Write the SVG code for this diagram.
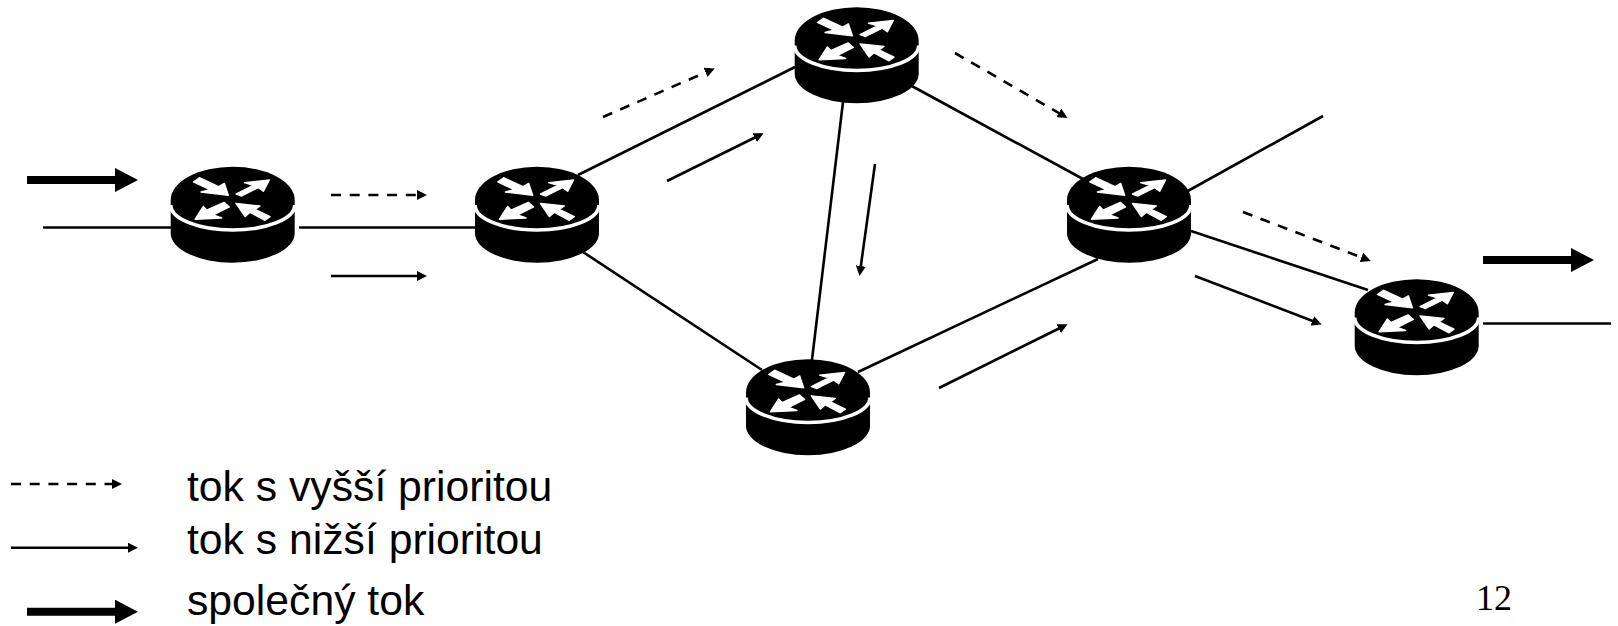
<svg xmlns="http://www.w3.org/2000/svg" width="1618" height="626" viewBox="0 0 1618 626">
<style>
.l{stroke:#000;stroke-width:2.6;fill:none}
.d{stroke:#000;stroke-width:2.6;fill:none;stroke-dasharray:10 8.7}
.b{stroke:#000;stroke-width:8;fill:none}
.t{font-family:"Liberation Sans",Arial,sans-serif;font-size:42.7px;fill:#000}
.w{fill:#fff;stroke:#fff;stroke-width:4;stroke-linejoin:round}
</style>
<defs>
<marker id="a" markerUnits="userSpaceOnUse" markerWidth="10" markerHeight="10" refX="6" refY="5" orient="auto"><path d="M0 0L10 5L0 10Z"/></marker>
<marker id="A" markerUnits="userSpaceOnUse" markerWidth="23" markerHeight="24" refX="1" refY="12" orient="auto"><path d="M0 0L23 12L0 24Z"/></marker>
<symbol id="r" overflow="visible">
<g transform="scale(.3333) translate(-248 -150)">
<path d="M62 150V250A186 88 0 0 0 434 250V150A186 100 0 0 0 62 150Z" fill="#000"/>
<path d="M62 165A186 75 0 0 0 434 165" fill="none" stroke="#fff" stroke-width="11"/>
<path class="w" d="M130 96L148 83L206 110L223 100L235 136L153 126L180 119Z"/>
<path class="w" d="M258 132L310 106L283 98L358 90L340 124L325 113L275 138Z"/>
<path class="w" d="M238 171L190 195L215 204L135 208L160 169L170 180L222 157Z"/>
<path class="w" d="M258 160L330 168L315 178L360 200L345 211L300 187L285 200Z"/>
</g>
</symbol>
</defs>
<g id="connectors">
<path class="l" d="M43 227.5H172M299 227.5H475"/>
<path class="l" d="M578 175L795 67M583 252L762 370M843 102L811 368M910 85L1083 179M1186 192L1323 116M1191 231L1368 290M858 372L1098 259M1483 323.5H1611"/>
<path class="d" marker-end="url(#a)" d="M331 195H423"/>
<path class="l" marker-end="url(#a)" d="M331 276H423"/>
<path class="d" marker-end="url(#a)" d="M603 117L711 70"/>
<path class="l" marker-end="url(#a)" d="M667 181L760 135"/>
<path class="d" marker-end="url(#a)" d="M955 53L1064 116"/>
<path class="l" marker-end="url(#a)" d="M875 164L860 272"/>
<path class="d" marker-end="url(#a)" d="M1243 212L1367 259.5"/>
<path class="l" marker-end="url(#a)" d="M1195 276L1318 323"/>
<path class="l" marker-end="url(#a)" d="M939 388L1064 326"/>
<path class="b" marker-end="url(#A)" d="M27 180H116"/>
<path class="b" marker-end="url(#A)" d="M1483 260H1572"/>
</g>
<g id="r1"><use href="#r" x="232.7" y="200"/></g>
<g id="r2"><use href="#r" x="537" y="200"/></g>
<g id="r3"><use href="#r" x="856.7" y="40.5"/></g>
<g id="r4"><use href="#r" x="1129" y="200"/></g>
<g id="r5"><use href="#r" x="1416.7" y="312.5"/></g>
<g id="r6"><use href="#r" x="808" y="392.5"/></g>
<g id="legend">
<path class="d" marker-end="url(#a)" d="M11 484H118"/>
<path class="l" marker-end="url(#a)" d="M11 547.7H134"/>
<path class="b" marker-end="url(#A)" d="M27 611.7H116"/>
<text class="t" x="187" y="501">tok s vyšší prioritou</text>
<text class="t" x="187" y="554">tok s nižší prioritou</text>
<text class="t" x="187" y="615">společný tok</text>
<text x="1476" y="610" style="font-family:'Liberation Serif',serif;font-size:36px">12</text>
</g>
</svg>
